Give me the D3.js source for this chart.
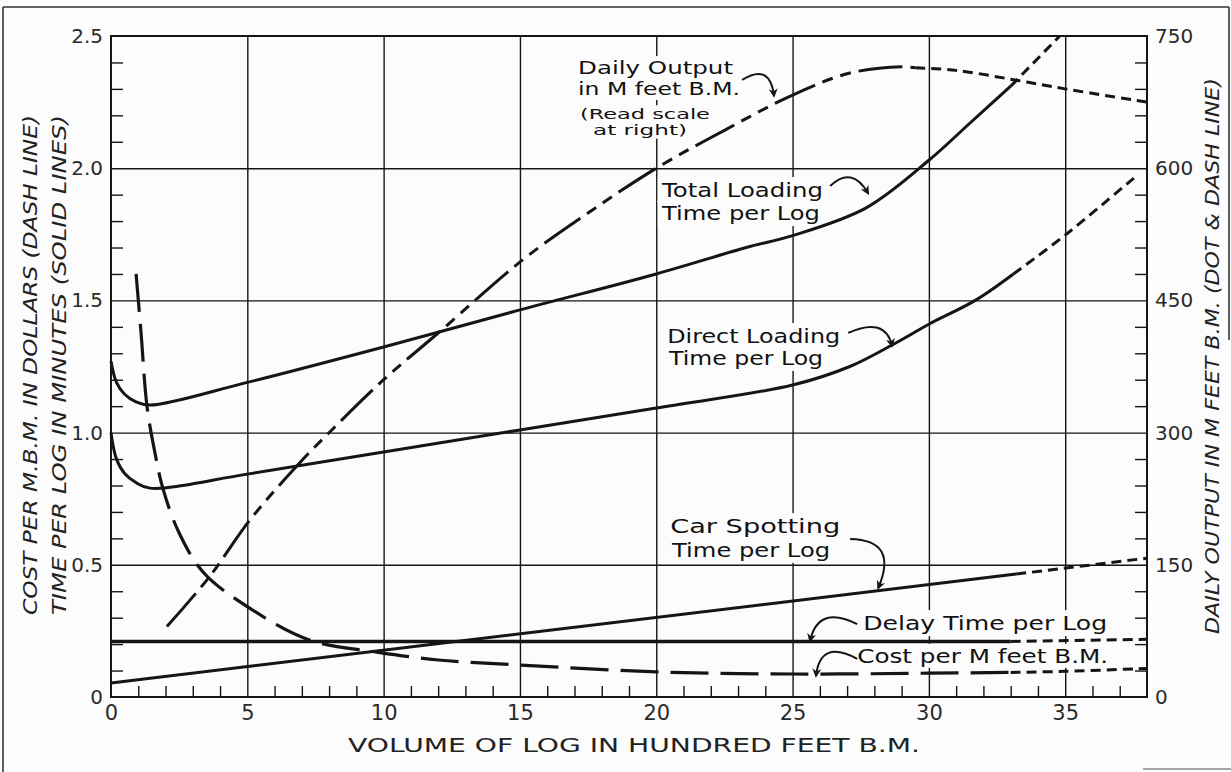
<!DOCTYPE html>
<html><head><meta charset="utf-8">
<script src="https://cdn.jsdelivr.net/npm/d3@7"></script>
<style>
body{margin:0;background:#fcfcfc}
svg{display:block}
</style>
</head><body>
<svg id="chart" width="1231" height="772"></svg>
<script>
// ---------- data ----------
const xMajorTicks = [0, 5, 10, 15, 20, 25, 30, 35];
const xTickLabels = ["0", "5", "10", "15", "20", "25", "30", "35"];
const leftMajorTicks = [0, 0.5, 1.0, 1.5, 2.0, 2.5];
const leftTickLabels = ["0", "0.5", "1.0", "1.5", "2.0", "2.5"];
const rightMajorTicks = [0, 150, 300, 450, 600, 750];
const rightTickLabels = ["0", "150", "300", "450", "600", "750"];

// minutes per log (solid)
const totalLoading = [[0,1.27],[0.2,1.19],[0.5,1.145],[0.9,1.117],[1.43,1.104],[5,1.19],[10,1.324],[15,1.464],[20,1.6],[23.3,1.70],[25,1.745],[27.7,1.85],[30,2.03],[31.5,2.17],[33,2.31]];
const totalLoadingExt = [[33,2.31],[34.8,2.5]];
const directLoading = [[0,1.0],[0.2,0.9],[0.5,0.845],[0.9,0.812],[1.43,0.79],[5,0.843],[10,0.927],[15,1.01],[20,1.093],[25,1.18],[27.1,1.25],[28.8,1.34],[30,1.41],[31.7,1.50],[33.1,1.60]];
const directLoadingExt = [[33.1,1.60],[35,1.747],[37.6,1.97]];
const carSpotting = [[0,0.053],[33.2,0.465]];
const carSpottingExt = [[33.2,0.465],[38,0.525]];
const delayTime = [[0,0.21],[33,0.21]];
const delayTimeExt = [[33,0.21],[38,0.218]];
// dollars per M feet B.M. (dash)
const costPerM = [[0.92,1.60],[1.1,1.38],[1.32,1.10],[1.6,0.93],[1.9,0.79],[2.5,0.62],[3.4,0.47],[5.1,0.335],[7.3,0.215],[9.75,0.17],[12,0.14],[15,0.121],[20,0.095],[25,0.087],[30,0.09],[33,0.093]];
const costPerMExt = [[33,0.093],[35,0.097],[38,0.108]];
// M feet B.M. per day (dot & dash, right scale)
const dailyOutput = [[2.05,80],[3.6,136],[5.1,201],[6.9,265],[8.1,303],[10,360],[12,413],[15.1,496],[17.3,545],[20,600],[22.5,643],[25,683],[27.1,708],[29,715],[29.5,714]];
const dailyOutputExt = [[29.5,714],[31,711],[33,701],[35,690],[38,675]];

// annotation texts
const noteTexts = [
  "Daily Output", "in M feet B.M.", "(Read scale", "at right)",
  "Total Loading", "Time per Log",
  "Direct Loading", "Time per Log",
  "Car Spotting", "Time per Log",
  "Delay Time per Log",
  "Cost per M feet B.M."
];

// ---------- layout ----------
const svg = d3.select("#chart");
const X0 = 111, X1 = 1147, Y0 = 697, Y1 = 36;
const x = d3.scaleLinear().domain([0, 38]).range([X0, X1]);
const yL = d3.scaleLinear().domain([0, 2.5]).range([Y0, Y1]);
const yR = d3.scaleLinear().domain([0, 750]).range([Y0, Y1]);
const INK = "#151515";
const FONT = "'DejaVu Sans', sans-serif";

// outer frame (partial, as scanned)
const frame = svg.append("g").attr("stroke", "#333").attr("stroke-width", 1.6).attr("fill", "none");
frame.append("line").attr("x1", 3).attr("y1", 7).attr("x2", 1229).attr("y2", 7);
frame.append("line").attr("x1", 3).attr("y1", 7).attr("x2", 3).attr("y2", 772);
frame.append("line").attr("x1", 1229).attr("y1", 7).attr("x2", 1229).attr("y2", 340);
frame.append("line").attr("x1", 1143).attr("y1", 769).attr("x2", 1231).attr("y2", 769).attr("stroke", "#888");

const gridL = svg.append("g");
const boxL = svg.append("g");
const curveL = svg.append("g");
const textL = svg.append("g");

// grid lines via axes
const H = Y0 - Y1, W = X1 - X0;
function inkLines(g) { g.select(".domain").remove(); g.selectAll("line").attr("stroke", INK).attr("stroke-width", 1.4); }
gridL.append("g").attr("transform", `translate(0,${Y0})`)
  .call(d3.axisBottom(x).tickValues(xMajorTicks.filter(v => v > 0)).tickSize(-H).tickFormat("")).call(inkLines);
gridL.append("g").attr("transform", `translate(${X0},0)`)
  .call(d3.axisLeft(yL).tickValues(leftMajorTicks.filter(v => v > 0 && v < 2.5)).tickSize(-W).tickFormat("")).call(inkLines);

// minor ticks
const xMinor = d3.range(1, 38).filter(v => v % 5 !== 0);
gridL.append("g").attr("transform", `translate(0,${Y0})`)
  .call(d3.axisBottom(x).tickValues(xMinor).tickSize(-11).tickFormat("")).call(inkLines);
const yMinor = d3.range(1, 25).filter(v => v % 5 !== 0).map(v => v / 10);
gridL.append("g").attr("transform", `translate(${X0},0)`)
  .call(d3.axisLeft(yL).tickValues(yMinor).tickSize(-12).tickFormat("")).call(inkLines);
const rMinor = d3.range(1, 25).filter(v => v % 5 !== 0).map(v => v * 30);
gridL.append("g").attr("transform", `translate(${X1},0)`)
  .call(d3.axisRight(yR).tickValues(rMinor).tickSize(-12).tickFormat("")).call(inkLines);

// plot frame
gridL.append("rect").attr("x", X0).attr("y", Y1).attr("width", W).attr("height", H)
  .attr("fill", "none").attr("stroke", INK).attr("stroke-width", 2);

// tick labels via axes
function styleLabels(g) {
  g.select(".domain").remove();
  g.selectAll("line").remove();
  g.selectAll("text").attr("font-family", FONT).attr("fill", "#2a2a2a").attr("font-size", 20);
}
textL.append("g").attr("transform", `translate(0,${Y0})`)
  .call(d3.axisBottom(x).tickValues(xMajorTicks).tickSize(0).tickPadding(8).tickFormat((d, i) => xTickLabels[i]))
  .call(styleLabels).call(g => g.selectAll("text").attr("font-size", 21));
textL.append("g").attr("transform", `translate(${X0},0)`)
  .call(d3.axisLeft(yL).tickValues(leftMajorTicks).tickSize(0).tickPadding(8).tickFormat((d, i) => leftTickLabels[i]))
  .call(styleLabels);
textL.append("g").attr("transform", `translate(${X1},0)`)
  .call(d3.axisRight(yR).tickValues(rightMajorTicks).tickSize(0).tickPadding(8).tickFormat((d, i) => rightTickLabels[i]))
  .call(styleLabels);

// axis titles
function title(tr, len, txt, italic) {
  textL.append("text").attr("transform", tr)
    .attr("text-anchor", "middle").attr("font-family", FONT).attr("font-style", italic ? "italic" : null)
    .attr("font-size", 20).attr("fill", "#222").attr("textLength", len).attr("lengthAdjust", "spacingAndGlyphs")
    .text(txt);
}
title("translate(37,365) rotate(-90)", 500, "COST PER M.B.M. IN DOLLARS (DASH LINE)", true);
title("translate(66,365) rotate(-90)", 500, "TIME PER LOG IN MINUTES (SOLID LINES)", true);
title("translate(1219,356) rotate(-90)", 556, "DAILY OUTPUT IN M FEET B.M. (DOT & DASH LINE)", true);
title("translate(634,752)", 572, "VOLUME OF LOG IN HUNDRED FEET B.M.", false);

// annotations (baseline positions in data units, left scale)
const noteSpecs = [
  {i: 0, x: 17.13, y: 2.356, fs: 18.5, w: 155},
  {i: 1, x: 17.13, y: 2.277, fs: 18.5, w: 162},
  {i: 2, x: 17.2, y: 2.185, fs: 14.5, w: 130},
  {i: 3, x: 17.68, y: 2.127, fs: 14.5, w: 94},
  {i: 4, x: 20.21, y: 1.891, fs: 20, w: 161},
  {i: 5, x: 20.21, y: 1.804, fs: 20, w: 158},
  {i: 6, x: 20.4, y: 1.339, fs: 20, w: 173},
  {i: 7, x: 20.47, y: 1.256, fs: 20, w: 154},
  {i: 8, x: 20.51, y: 0.62, fs: 20, w: 170},
  {i: 9, x: 20.58, y: 0.53, fs: 20, w: 158},
  {i: 10, x: 27.59, y: 0.253, fs: 20, w: 244},
  {i: 11, x: 27.37, y: 0.129, fs: 19, w: 251}
];
const noteNodes = noteSpecs.map(s =>
  textL.append("text").attr("font-family", FONT).attr("font-size", s.fs).attr("fill", "#111")
    .attr("x", x(s.x)).attr("y", yL(s.y))
    .attr("textLength", s.w).attr("lengthAdjust", "spacingAndGlyphs").text(noteTexts[s.i]));
// paper-coloured boxes behind annotation text (they mask grid lines)
noteNodes.forEach(t => {
  const b = t.node().getBBox();
  boxL.append("rect").attr("x", b.x - 3).attr("y", b.y - 1).attr("width", b.width + 6).attr("height", b.height + 2)
    .attr("fill", "#fcfcfc");
});

// curved arrows: [start, control, end] in data units
const arrows = [
  [[23.15,2.334],[24.17,2.40],[24.32,2.273]],
  [[26.38,1.933],[27.18,2.01],[27.77,1.905]],
  [[27.04,1.377],[28.39,1.44],[28.65,1.328]],
  [[27.11,0.598],[28.9,0.594],[28.14,0.412]],
  [[27.37,0.276],[25.94,0.35],[25.64,0.212]],
  [[27.37,0.144],[26.01,0.22],[25.86,0.08]]
];
const defs = svg.append("defs");
defs.append("marker").attr("id", "ah").attr("viewBox", "0 0 10 10").attr("refX", 8).attr("refY", 5)
  .attr("markerWidth", 9).attr("markerHeight", 9).attr("markerUnits", "userSpaceOnUse").attr("orient", "auto")
  .append("path").attr("d", "M0,0 L10,5 L0,10 L3,5 z").attr("fill", INK);
curveL.selectAll("path.arrow").data(arrows).join("path").attr("class", "arrow")
  .attr("d", a => `M${x(a[0][0])},${yL(a[0][1])} Q${x(a[1][0])},${yL(a[1][1])} ${x(a[2][0])},${yL(a[2][1])}`)
  .attr("fill", "none").attr("stroke", INK).attr("stroke-width", 2).attr("marker-end", "url(#ah)");

// curves
const smooth = d3.curveCatmullRom.alpha(0.5);
const lineL = d3.line().x(d => x(d[0])).y(d => yL(d[1])).curve(smooth);
const lineR = d3.line().x(d => x(d[0])).y(d => yR(d[1])).curve(smooth);
function draw(data, gen, dash, w) {
  curveL.append("path").datum(data).attr("d", gen).attr("fill", "none").attr("stroke", INK)
    .attr("stroke-width", w || 3).attr("stroke-dasharray", dash || null).attr("stroke-linecap", "butt");
}
const SHORT = "10,6";
draw(totalLoading, lineL); draw(totalLoadingExt, lineL, SHORT);
draw(directLoading, lineL); draw(directLoadingExt, lineL, SHORT);
draw(carSpotting, lineL); draw(carSpottingExt, lineL, SHORT);
draw(delayTime, lineL, null, 3.4); draw(delayTimeExt, lineL, SHORT);
draw(costPerM, lineL, "38,12", 3.2); draw(costPerMExt, lineL, SHORT);
draw(dailyOutput, lineR, "44,8,11,8,11,8"); draw(dailyOutputExt, lineR, SHORT);
</script>
</body></html>
